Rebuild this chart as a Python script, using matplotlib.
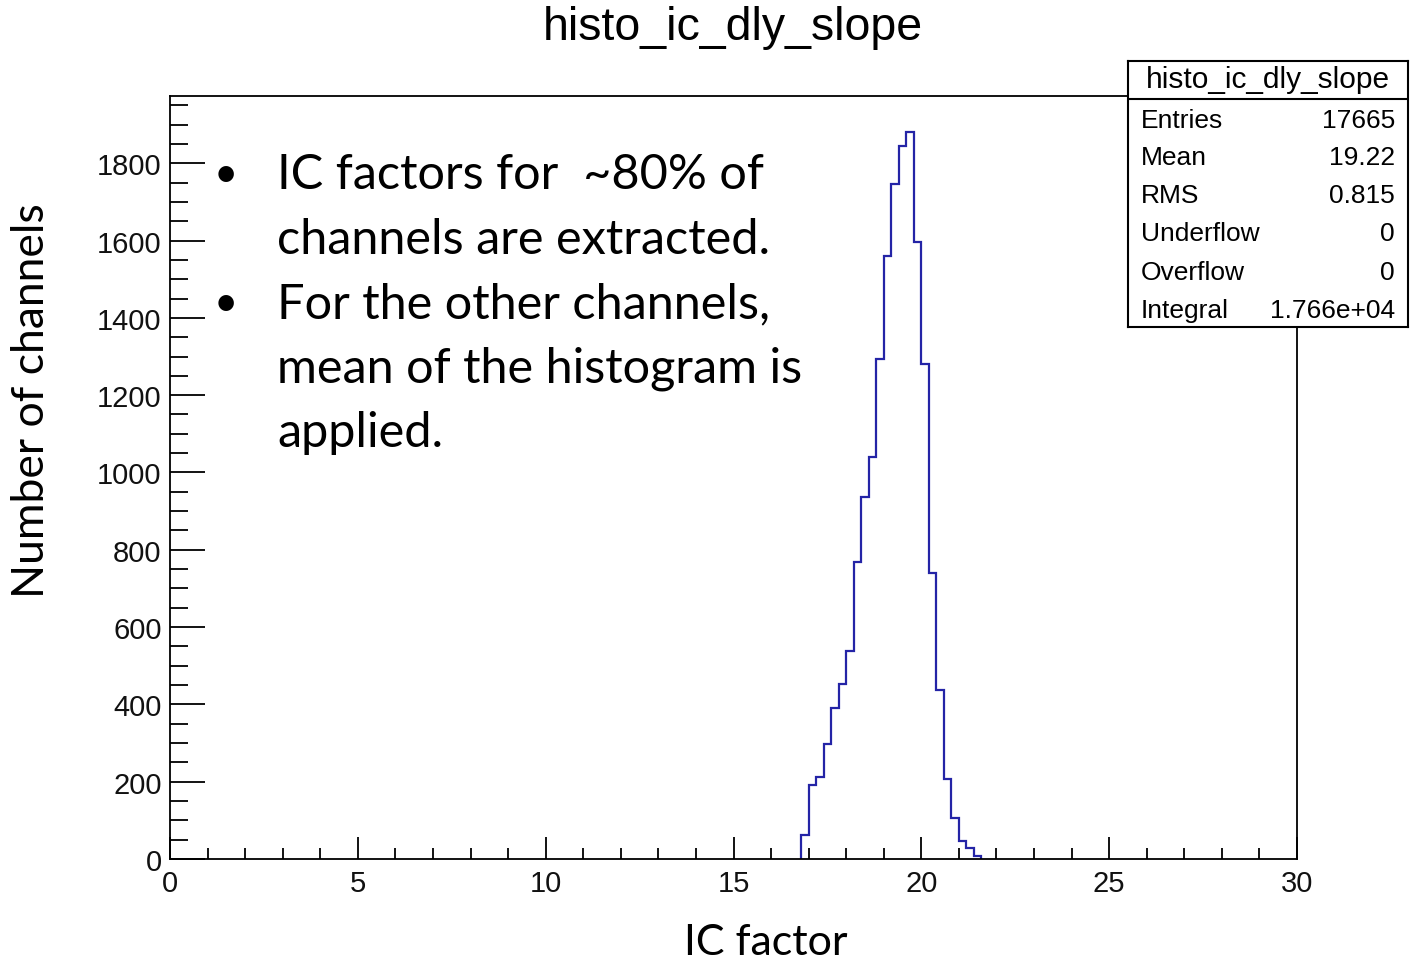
import numpy as np
import matplotlib.pyplot as plt
from matplotlib.ticker import MultipleLocator

# ---------- histogram contents (bin width 0.2, range 0..30) ----------
bin_lo = 16.8
bin_w = 0.2
counts = [62, 192, 212, 297, 390, 452, 539, 768, 936, 1041, 1294, 1560,
          1747, 1845, 1880, 1595, 1281, 740, 437, 208, 105, 47, 28, 9]

hist_name = "histo_ic_dly_slope"
stat_mean = "19.22"
stat_rms = "0.815"
underflow = 0
overflow = 0

notes = [["IC factors for  ~80% of", "channels are extracted."],
         ["For the other channels,", "mean of the histogram is", "applied."]]

edges = bin_lo + bin_w * np.arange(len(counts) + 1)
n_entries = int(np.sum(counts))

W, H = 1410, 962
fig = plt.figure(figsize=(W / 100, H / 100), dpi=100)
fig.patch.set_facecolor("white")

arial = "Liberation Sans"
calibri = "Lato"
line_c = "#2424a6"

ax = fig.add_axes([170 / W, 1 - 860 / H, (1297 - 170) / W, (860 - 97) / H])
ax.stairs(counts, edges, color=line_c, lw=1.6)
ax.set_xlim(0, 30)
ax.set_ylim(0, max(counts) * 1.05)

for s in ax.spines.values():
    s.set_linewidth(1.3)

ax.xaxis.set_major_locator(MultipleLocator(5))
ax.xaxis.set_minor_locator(MultipleLocator(1))
ax.yaxis.set_major_locator(MultipleLocator(200))
ax.yaxis.set_minor_locator(MultipleLocator(50))
ax.tick_params(axis="both", which="both", direction="in", top=False, right=False,
               width=1.3, color="black")
ax.tick_params(axis="x", which="major", length=16, pad=7)
ax.tick_params(axis="x", which="minor", length=8)
ax.tick_params(axis="y", which="major", length=25, pad=6)
ax.tick_params(axis="y", which="minor", length=13)
for lab in ax.get_xticklabels() + ax.get_yticklabels():
    lab.set_fontfamily(arial)
    lab.set_fontsize(21)
    lab.set_color("#111111")

fig.text(733 / W, 1 - 28 / H, hist_name, ha="center", va="center",
         fontsize=33.5, family=arial)
fig.text(32 / W, 1 - 401 / H, "Number of channels", rotation=90, ha="center",
         va="center", fontsize=32, family=calibri)
fig.text(766 / W, 1 - 943 / H, "IC factor", ha="center", va="center",
         fontsize=31, family=calibri)

# bullet notes
y = 175
for block in notes:
    fig.text(226 / W, 1 - y / H, "\u2022", ha="center", va="center",
             fontsize=30, family=calibri)
    for line in block:
        fig.text(277 / W, 1 - y / H, line, ha="left", va="center",
                 fontsize=35, family=calibri)
        y += 64.5

# statistics box
bx0, bx1, by0, by1 = 1128, 1408, 62, 328
sb = fig.add_axes([bx0 / W, 1 - by1 / H, (bx1 - bx0) / W, (by1 - by0) / H])
sb.set_xlim(bx0, bx1)
sb.set_ylim(by1, by0)
sb.set_xticks([])
sb.set_yticks([])
sb.set_facecolor("white")
for s in sb.spines.values():
    s.set_linewidth(1.5)
sb.axhline(100, color="black", lw=1.5)
sb.text((bx0 + bx1) / 2, 80, hist_name, ha="center", va="center",
        fontsize=21.5, family=arial)
rows = [("Entries", str(n_entries)),
        ("Mean", stat_mean),
        ("RMS", stat_rms),
        ("Underflow", str(underflow)),
        ("Overflow", str(overflow)),
        ("Integral", "%.3e" % np.sum(counts))]
ry = [121, 158, 196, 234, 273, 311]
for (k, v), yy in zip(rows, ry):
    sb.text(1141, yy, k, ha="left", va="center", fontsize=19, family=arial)
    sb.text(1395, yy, v, ha="right", va="center", fontsize=19, family=arial)

fig.savefig("out.png", dpi=100)
